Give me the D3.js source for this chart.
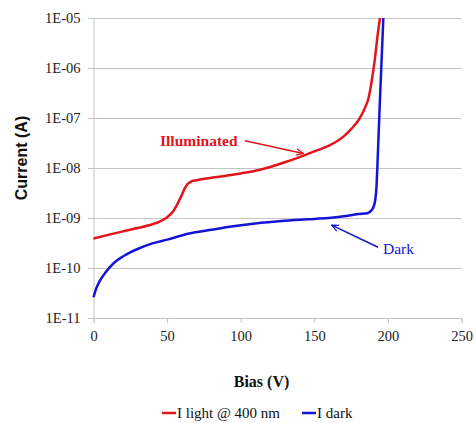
<html>
<head>
<script src="https://d3js.org/d3.v7.min.js"></script>
<style>
body { margin:0; background:#fff; }
.serif { font-family: "Liberation Serif", "Times New Roman", "DejaVu Serif", serif; }
.sans { font-family: "Liberation Sans", Arial, sans-serif; }
</style>
</head>
<body>
<script>
// DATA - bias (V) and current (A) for both curves
var lightBias    = [0, 10, 20, 30, 40, 45, 50, 54, 57, 60, 62, 64, 66, 70, 80, 90, 100, 110, 120, 130, 140, 150, 160, 170, 175, 180, 184, 187, 189, 191, 193, 194.6];
var lightCurrent = [3.9e-10, 4.6e-10, 5.4e-10, 6.3e-10, 7.5e-10, 8.5e-10, 1.03e-9, 1.35e-9, 1.9e-9, 2.9e-9, 3.9e-9, 4.8e-9, 5.3e-9, 5.7e-9, 6.4e-9, 7.0e-9, 7.8e-9, 8.8e-9, 1.05e-8, 1.3e-8, 1.65e-8, 2.15e-8, 2.8e-8, 4.3e-8, 6.0e-8, 9.0e-8, 1.5e-7, 2.6e-7, 5.5e-7, 1.4e-6, 4.5e-6, 1e-5];

var darkBias    = [0, 2, 4.4, 8, 11, 15, 20, 25, 30, 40, 50, 65, 80, 90, 110, 130, 150, 160, 170, 180, 186, 188, 190, 191.5, 192.3, 192.8, 194.6, 196.9];
var darkCurrent = [2.6e-11, 4.0e-11, 5.6e-11, 8.0e-11, 1.03e-10, 1.35e-10, 1.7e-10, 2.05e-10, 2.4e-10, 3.1e-10, 3.7e-10, 4.9e-10, 5.8e-10, 6.5e-10, 7.8e-10, 8.8e-10, 9.6e-10, 1.0e-9, 1.08e-9, 1.2e-9, 1.25e-9, 1.35e-9, 1.6e-9, 2.4e-9, 4.5e-9, 1.0e-8, 2.3e-7, 1e-5];

var xTicks = [0, 50, 100, 150, 200, 250];
var yTicks = [1e-11, 1e-10, 1e-9, 1e-8, 1e-7, 1e-6, 1e-5];
var legendLabels = ["I light @ 400 nm", "I dark"];

var red = "#e3141c", blue = "#1414d6";

var svg = d3.select("body").append("svg")
  .attr("width", 476).attr("height", 423)
  .style("display", "block");

var x = d3.scaleLinear().domain([0, 250]).range([93.5, 461.5]);
var y = d3.scaleLog().domain([1e-11, 1e-5]).range([318, 18]);

function fmtE(v) {
  var e = Math.round(Math.log10(v));
  var s = Math.abs(e) < 10 ? "0" + Math.abs(e) : "" + Math.abs(e);
  return "1E" + (e < 0 ? "-" : "+") + s;
}

// gridlines
var gy = svg.append("g").attr("transform", "translate(461.5,0)")
  .call(d3.axisLeft(y).tickValues(yTicks).tickFormat("").tickSize(461.5 - 88));
gy.select(".domain").remove();
gy.selectAll("line").attr("stroke", "#c4c4c4");

// y axis labels
var gyl = svg.append("g").attr("transform", "translate(93.5,0)")
  .call(d3.axisLeft(y).tickValues(yTicks).tickFormat(fmtE).tickSize(0).tickPadding(13));
gyl.attr("font-family", null).attr("font-size", null);
gyl.select(".domain").attr("stroke", "#c4c4c4");
gyl.selectAll("text").attr("class", "serif")
  .style("font-size", "14.5px").attr("fill", "#222");

// x axis
var gx = svg.append("g").attr("transform", "translate(0,318)")
  .call(d3.axisBottom(x).tickValues(xTicks).tickSize(5).tickPadding(8));
gx.attr("font-family", null).attr("font-size", null);
gx.select(".domain").attr("stroke", "#c4c4c4");
gx.selectAll("line").attr("stroke", "#c4c4c4");
gx.selectAll("text").attr("class", "serif")
  .style("font-size", "14.5px").attr("fill", "#222");

// curves
var line = d3.line()
  .x(function(d){ return x(d[0]); })
  .y(function(d){ return y(d[1]); })
  .curve(d3.curveMonotoneX);

svg.append("path").datum(d3.zip(lightBias, lightCurrent))
  .attr("d", line).attr("fill", "none").attr("stroke", red).attr("stroke-width", 2.5);
svg.append("path").datum(d3.zip(darkBias, darkCurrent))
  .attr("d", line).attr("fill", "none").attr("stroke", blue).attr("stroke-width", 2.5);

// arrowheads
var defs = svg.append("defs");
[["arrRed", red], ["arrBlue", blue]].forEach(function(m) {
  defs.append("marker").attr("id", m[0])
    .attr("viewBox", "0 0 10 10").attr("refX", 9).attr("refY", 5)
    .attr("markerWidth", 5).attr("markerHeight", 5).attr("orient", "auto")
    .append("path").attr("d", "M0,1 L9,5 L0,9").attr("fill", "none")
    .attr("stroke", m[1]).attr("stroke-width", 1.6);
});

// annotations
svg.append("text").attr("class", "serif").attr("x", x(45.2)).attr("y", y(2.8e-8))
  .style("font-size", "15.5px").style("font-weight", "bold").attr("fill", red)
  .text("Illuminated");
svg.append("line")
  .attr("x1", x(102.9)).attr("y1", y(3.5e-8)).attr("x2", x(142.5)).attr("y2", y(1.95e-8))
  .attr("stroke", red).attr("stroke-width", 1.6).attr("marker-end", "url(#arrRed)");

svg.append("text").attr("class", "serif").attr("x", x(196.7)).attr("y", y(1.9e-10))
  .style("font-size", "15.5px").attr("fill", blue)
  .text("Dark");
svg.append("line")
  .attr("x1", x(193.3)).attr("y1", y(2.6e-10)).attr("x2", x(161.8)).attr("y2", y(7.2e-10))
  .attr("stroke", blue).attr("stroke-width", 1.6).attr("marker-end", "url(#arrBlue)");

// axis titles
svg.append("text").attr("class", "serif").attr("x", 261.5).attr("y", 387).attr("text-anchor", "middle")
  .style("font-size", "16px").style("font-weight", "bold").attr("fill", "#111")
  .text("Bias (V)");
svg.append("text").attr("class", "sans").attr("transform", "translate(27,158) rotate(-90)")
  .attr("text-anchor", "middle")
  .style("font-size", "16px").style("font-weight", "bold").attr("fill", "#111")
  .text("Current (A)");

// legend
var legX = [162, 302];
var legColors = [red, blue];
legendLabels.forEach(function(t, i) {
  svg.append("line").attr("x1", legX[i]).attr("x2", legX[i] + 14)
    .attr("y1", 413).attr("y2", 413)
    .attr("stroke", legColors[i]).attr("stroke-width", 2.5);
  svg.append("text").attr("class", "serif").attr("x", legX[i] + 15).attr("y", 418)
    .style("font-size", "15px").attr("fill", "#111")
    .text(t);
});
</script>
</body>
</html>
